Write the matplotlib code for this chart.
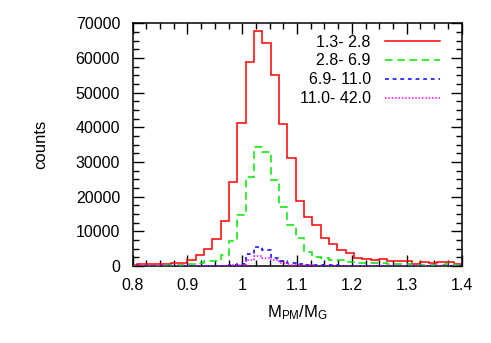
import numpy as np
import matplotlib
matplotlib.use("Agg")
import matplotlib.pyplot as plt
from matplotlib.ticker import MultipleLocator

plt.rcParams['font.family'] = ['Liberation Sans', 'DejaVu Sans']

# bin range (40 bins)
x_lo, x_hi, nbins = 0.7938, 1.401, 40

labels = ["1.3- 2.8", "2.8- 6.9", "6.9- 11.0", "11.0- 42.0"]

red = [350, 450, 500, 550, 600, 770, 950, 1800, 3200, 5000, 7900, 13000, 24300, 41300,
       58800, 67800, 64400, 55200, 41000, 31100, 18800, 14100, 11700, 8200, 6250, 4600,
       3650, 2400, 2000, 1730, 1930, 1530, 1350, 1350, 580, 1150, 770, 1150, 1150, 700]
green = [50, 80, 100, 120, 150, 250, 350, 600, 950, 1300, 1400, 3300, 7200, 14700,
         25700, 34400, 33000, 24700, 17000, 11700, 8000, 4000, 2700, 2300, 1700, 1650,
         1250, 950, 770, 770, 750, 500, 500, 480, 300, 300, 300, 300, 450, 400]
blue = [0, 0, 0, 0, 0, 0, 0, 20, 30, 50, 80, 120, 250, 600,
        3400, 5600, 4600, 2400, 1300, 800, 500, 350, 250, 200, 150, 120,
        100, 80, 60, 50, 40, 30, 30, 20, 20, 10, 10, 10, 10, 10]
magenta = [0, 0, 0, 0, 0, 0, 0, 0, 10, 20, 40, 60, 150, 400,
           1700, 2800, 2300, 1800, 800, 400, 250, 150, 100, 80, 60, 50,
           40, 30, 30, 20, 20, 20, 10, 10, 10, 10, 10, 10, 10, 10]

colors = ['#ff0000', '#00e800', '#0000ff', '#ff00ff']
styles = ['-', (0, (5, 3)), (0, (2.5, 2.5)), (0, (1, 1.2))]

edges = np.linspace(x_lo, x_hi, nbins + 1)

fig = plt.figure(figsize=(4.91, 3.43), dpi=100)
ax = fig.add_axes([0.270, 0.2245, 0.670, 0.7075])

for i, (vals, c, ls, lab) in enumerate(zip([red, green, blue, magenta], colors, styles, labels)):
    ax.stairs(vals, edges, color=c, linestyle=ls, linewidth=1.1, label=lab, zorder=2 + i)

ax.set_xlim(0.8, 1.4)
ax.set_ylim(0, 70000)
ax.xaxis.set_major_locator(MultipleLocator(0.1))
ax.xaxis.set_minor_locator(MultipleLocator(0.025))
ax.yaxis.set_major_locator(MultipleLocator(10000))
ax.yaxis.set_minor_locator(MultipleLocator(2500))
ax.set_xticks([0.8, 0.9, 1.0, 1.1, 1.2, 1.3, 1.4])
ax.set_xticklabels(["0.8", "0.9", "1", "1.1", "1.2", "1.3", "1.4"])
ax.tick_params(which='both', direction='in', top=True, right=True, labelsize=11.5, width=1.0)
ax.tick_params(which='major', length=8)
ax.tick_params(axis='x', which='major', pad=9)
ax.tick_params(axis='y', which='major', pad=9)
ax.tick_params(which='minor', length=4.5)
for s in ax.spines.values():
    s.set_linewidth(1.1)

ax.set_xlabel(r'$\mathregular{M_{PM}/M_G}$', fontsize=12, labelpad=7)
ax.set_ylabel('counts', fontsize=12, labelpad=20)

leg = ax.legend(loc='upper right', bbox_to_anchor=(0.967, 1.0), frameon=False,
                fontsize=11.5, markerfirst=False,
                handlelength=3.4, handletextpad=0.9, labelspacing=0.25,
                borderaxespad=0.3, alignment='right')
for t in leg.get_texts():
    t.set_ha('right')

fig.savefig('out.png', dpi=100)
